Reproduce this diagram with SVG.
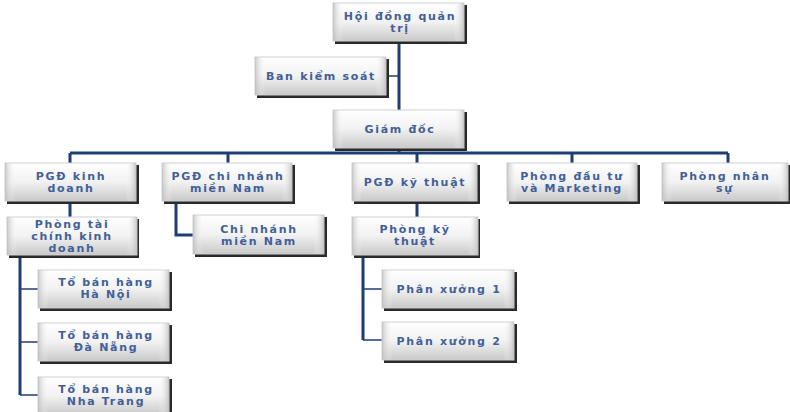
<svg xmlns="http://www.w3.org/2000/svg" width="790" height="412" viewBox="0 0 790 412">
<defs>
<linearGradient id="g" x1="0" y1="0" x2="0" y2="1">
<stop offset="0" stop-color="#ffffff"/>
<stop offset="0.5" stop-color="#f2f2f2"/>
<stop offset="1" stop-color="#c9c9c9"/>
</linearGradient>
<linearGradient id="gl" x1="0" y1="0" x2="1" y2="0">
<stop offset="0" stop-color="#bdbdbd" stop-opacity="0.8"/>
<stop offset="0.08" stop-color="#ffffff" stop-opacity="0"/>
<stop offset="0.92" stop-color="#ffffff" stop-opacity="0"/>
<stop offset="1" stop-color="#bdbdbd" stop-opacity="0.8"/>
</linearGradient>
</defs>
<style>
.sh{fill:#2a2a2a}
.bx{fill:url(#g);stroke:#d0d0d0;stroke-width:1}
.ed{fill:url(#gl)}
.t{font-family:"DejaVu Sans",Verdana,sans-serif;font-weight:bold;font-size:11px;fill:#41609a;text-anchor:middle;letter-spacing:1.7px}
.c{fill:none;stroke:#1f3f74;stroke-width:3}
.ct{fill:none;stroke:#1f3f74;stroke-width:1.5}
</style>
<rect width="790" height="412" fill="#ffffff"/>
<g id="connectors">
<path class="c" d="M399 42V110M399 148V153M70 153H728M70 153V163M228 153V163M417 153V163M572 153V163M728 153V163"/>
<path class="ct" d="M387 76H399"/>
<path class="c" d="M70 201V217M417 201V217"/>
<path class="c" d="M176 201V235H193"/>
<path class="c" d="M20 255V395M363 255V340"/>
<path class="ct" d="M20 289H38M20 342H38M20 395H38M363 289H382M363 340H382"/>
</g>
<g id="n1"><rect class="sh" x="335" y="5" width="132" height="39"/><rect class="bx" x="333" y="3" width="131" height="38"/><rect class="ed" x="333" y="3" width="131" height="38"/><text class="t" x="400" y="20">Hội đồng quản</text><text class="t" x="400" y="32">trị</text></g>
<g id="n2"><rect class="sh" x="257" y="59" width="132" height="39"/><rect class="bx" x="255" y="57" width="131" height="38"/><rect class="ed" x="255" y="57" width="131" height="38"/><text class="t" x="321" y="80">Ban kiểm soát</text></g>
<g id="n3"><rect class="sh" x="335" y="112" width="132" height="39"/><rect class="bx" x="333" y="110" width="131" height="38"/><rect class="ed" x="333" y="110" width="131" height="38"/><text class="t" x="400" y="133">Giám đốc</text></g>
<g id="n4"><rect class="sh" x="7" y="165" width="132" height="39"/><rect class="bx" x="5" y="163" width="131" height="38"/><rect class="ed" x="5" y="163" width="131" height="38"/><text class="t" x="71" y="180">PGĐ kinh</text><text class="t" x="71" y="192">doanh</text></g>
<g id="n5"><rect class="sh" x="164" y="165" width="131" height="39"/><rect class="bx" x="162" y="163" width="130" height="38"/><rect class="ed" x="162" y="163" width="130" height="38"/><text class="t" x="228" y="180">PGĐ chi nhánh</text><text class="t" x="228" y="192">miền Nam</text></g>
<g id="n6"><rect class="sh" x="354" y="165" width="126" height="39"/><rect class="bx" x="352" y="163" width="125" height="38"/><rect class="ed" x="352" y="163" width="125" height="38"/><text class="t" x="415" y="186">PGĐ kỹ thuật</text></g>
<g id="n7"><rect class="sh" x="509" y="165" width="131" height="39"/><rect class="bx" x="507" y="163" width="130" height="38"/><rect class="ed" x="507" y="163" width="130" height="38"/><text class="t" x="572" y="180">Phòng đầu tư</text><text class="t" x="572" y="192">và Marketing</text></g>
<g id="n8"><rect class="sh" x="664" y="165" width="126" height="39"/><rect class="bx" x="662" y="163" width="126" height="38"/><rect class="ed" x="662" y="163" width="126" height="38"/><text class="t" x="725" y="180">Phòng nhân</text><text class="t" x="725" y="192">sự</text></g>
<g id="n9"><rect class="sh" x="9" y="219" width="130" height="39"/><rect class="bx" x="7" y="217" width="130" height="38"/><rect class="ed" x="7" y="217" width="130" height="38"/><text class="t" x="72" y="228">Phòng tài</text><text class="t" x="72" y="240">chính kinh</text><text class="t" x="72" y="252">doanh</text></g>
<g id="n10"><rect class="sh" x="195" y="217" width="132" height="40"/><rect class="bx" x="193" y="215" width="131" height="39"/><rect class="ed" x="193" y="215" width="131" height="39"/><text class="t" x="259" y="233">Chi nhánh</text><text class="t" x="259" y="245">miền Nam</text></g>
<g id="n11"><rect class="sh" x="354" y="219" width="126" height="39"/><rect class="bx" x="352" y="217" width="126" height="38"/><rect class="ed" x="352" y="217" width="126" height="38"/><text class="t" x="415" y="233">Phòng kỹ</text><text class="t" x="415" y="245">thuật</text></g>
<g id="n12"><rect class="sh" x="40" y="272" width="132" height="39"/><rect class="bx" x="38" y="270" width="131" height="38"/><rect class="ed" x="38" y="270" width="131" height="38"/><text class="t" x="106" y="286">Tổ bán hàng</text><text class="t" x="106" y="298">Hà Nội</text></g>
<g id="n13"><rect class="sh" x="40" y="325" width="132" height="39"/><rect class="bx" x="38" y="323" width="131" height="38"/><rect class="ed" x="38" y="323" width="131" height="38"/><text class="t" x="106" y="339">Tổ bán hàng</text><text class="t" x="106" y="351">Đà Nẵng</text></g>
<g id="n14"><rect class="sh" x="40" y="379" width="132" height="39"/><rect class="bx" x="38" y="377" width="131" height="38"/><rect class="ed" x="38" y="377" width="131" height="38"/><text class="t" x="106" y="393">Tổ bán hàng</text><text class="t" x="106" y="405">Nha Trang</text></g>
<g id="n15"><rect class="sh" x="384" y="272" width="133" height="39"/><rect class="bx" x="382" y="270" width="132" height="38"/><rect class="ed" x="382" y="270" width="132" height="38"/><text class="t" x="449" y="293">Phân xưởng 1</text></g>
<g id="n16"><rect class="sh" x="384" y="324" width="133" height="39"/><rect class="bx" x="382" y="322" width="132" height="38"/><rect class="ed" x="382" y="322" width="132" height="38"/><text class="t" x="449" y="345">Phân xưởng 2</text></g>
</svg>
